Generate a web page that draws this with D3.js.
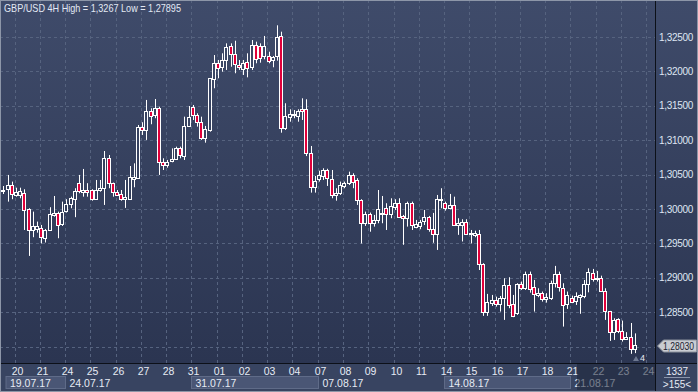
<!DOCTYPE html>
<html>
<head>
<meta charset="utf-8">
<script src="https://cdn.jsdelivr.net/npm/d3@7"></script>
<style>
  body { margin: 0; background: #2f3a55; }
  svg { display: block; font-family: "Liberation Sans", Arial, sans-serif; }
</style>
</head>
<body>
<div id="wrapper"></div>
<script>
// GBP/USD 4H bars, 19.07.17 12:00 -> 23.08.17 12:00
const opens = [1.30262,1.30287,1.30349,1.30214,1.30204,1.30238,1.29997,1.29695,1.29714,1.29720,
  1.29584,1.29695,1.29914,1.29948,1.29779,1.29972,1.30069,1.30156,1.30375,1.30252,
  1.30276,1.30276,1.30142,1.30267,1.30302,1.30737,1.30375,1.30244,1.30219,1.30142,
  1.30156,1.30447,1.30457,1.31197,1.31149,1.31425,1.31367,1.31473,1.30679,1.30640,
  1.30698,1.30727,1.30881,1.30775,1.31207,1.31479,1.31367,1.31261,1.31028,1.31149,
  1.31900,1.32127,1.32060,1.32166,1.32369,1.32253,1.32089,1.32045,1.32141,1.32060,
  1.32384,1.32369,1.32224,1.32224,1.32156,1.32214,1.32515,1.31173,1.31342,1.31367,
  1.31352,1.31449,1.31449,1.30819,1.30325,1.30432,1.30480,1.30567,1.30432,1.30204,
  1.30229,1.30335,1.30375,1.30495,1.30422,1.30131,1.29802,1.29928,1.29802,1.29841,
  1.29948,1.30016,1.29928,1.30034,1.30092,1.29899,1.29866,1.30092,1.29744,1.29754,
  1.29817,1.29881,1.29706,1.29638,1.30121,1.30084,1.30011,1.30059,1.29768,1.29768,
  1.29817,1.29638,1.29624,1.29638,1.29202,1.28509,1.28639,1.28678,1.28620,1.28703,
  1.28896,1.28620,1.28494,1.28911,1.28848,1.29056,1.28872,1.28751,1.28776,1.28689,
  1.28703,1.28921,1.29051,1.28857,1.28616,1.28712,1.28668,1.28726,1.28726,1.28906,
  1.29066,1.28983,1.29002,1.28810,1.28519,1.28210,1.28403,1.28229,1.28122,1.28146,
  1.27977];
const highs = [1.30334,1.30495,1.30398,1.30310,1.30310,1.30287,1.30011,1.29962,1.29817,1.29768,
  1.29710,1.30026,1.30189,1.29962,1.30107,1.30142,1.30179,1.30302,1.30495,1.30582,
  1.30375,1.30287,1.30422,1.30422,1.30843,1.30785,1.30384,1.30276,1.30276,1.30422,
  1.30625,1.30664,1.31221,1.31261,1.31585,1.31464,1.31599,1.31487,1.30737,1.30713,
  1.30881,1.30906,1.30906,1.31342,1.31497,1.31512,1.31391,1.31342,1.31207,1.31904,
  1.32238,1.32166,1.32263,1.32408,1.32408,1.32446,1.32166,1.32166,1.32263,1.32456,
  1.32432,1.32408,1.32515,1.32286,1.32224,1.32670,1.32577,1.31537,1.31449,1.31439,
  1.31449,1.31609,1.31595,1.30916,1.30480,1.30557,1.30592,1.30585,1.30567,1.30302,
  1.30398,1.30398,1.30543,1.30519,1.30447,1.30142,1.29962,1.29948,1.29914,1.30276,
  1.30189,1.30084,1.30156,1.30142,1.30156,1.29914,1.30107,1.30107,1.29841,1.29841,
  1.29986,1.29899,1.29943,1.30204,1.30302,1.30107,1.30219,1.30179,1.29866,1.29851,
  1.29851,1.29695,1.29685,1.29695,1.29212,1.28766,1.28751,1.28726,1.28736,1.28993,
  1.29008,1.28751,1.28921,1.28945,1.29090,1.29090,1.28969,1.28848,1.28800,1.28776,
  1.28959,1.29173,1.29090,1.28921,1.28800,1.28741,1.28789,1.28761,1.28969,1.29138,
  1.29129,1.29100,1.29031,1.28848,1.28519,1.28412,1.28412,1.28378,1.28210,1.28343,
  1.28192];
const lows = [1.30218,1.30107,1.30142,1.30179,1.30156,1.29695,1.29318,1.29590,1.29656,1.29499,
  1.29513,1.29685,1.29889,1.29575,1.29754,1.29948,1.30011,1.29881,1.30229,1.30179,
  1.30179,1.30121,1.30131,1.30252,1.30059,1.30302,1.30179,1.30189,1.30121,1.30016,
  1.30142,1.30316,1.30447,1.31076,1.31004,1.31232,1.31319,1.30495,1.30567,1.30601,
  1.30679,1.30713,1.30737,1.30713,1.31192,1.31294,1.31197,1.31004,1.30964,1.31124,
  1.31755,1.31900,1.31996,1.32021,1.32068,1.31973,1.32021,1.31948,1.31914,1.32021,
  1.32118,1.32127,1.32176,1.32118,1.32060,1.32156,1.31109,1.31149,1.31269,1.31319,
  1.31269,1.31294,1.30769,1.30238,1.30238,1.30398,1.30422,1.30335,1.30156,1.30121,
  1.30204,1.30302,1.30349,1.30302,1.30059,1.29499,1.29754,1.29670,1.29744,1.29793,
  1.29793,1.29695,1.29866,1.29986,1.29881,1.29480,1.29744,1.29695,1.29720,1.29706,
  1.29768,1.29670,1.29509,1.29405,1.30011,1.29976,1.29997,1.29754,1.29624,1.29528,
  1.29624,1.29499,1.29590,1.29113,1.28447,1.28447,1.28591,1.28581,1.28509,1.28388,
  1.28558,1.28428,1.28461,1.28824,1.28824,1.28784,1.28509,1.28718,1.28654,1.28639,
  1.28678,1.28860,1.28800,1.28291,1.28548,1.28632,1.28606,1.28477,1.28703,1.28789,
  1.28945,1.28945,1.28800,1.28388,1.28083,1.28097,1.28196,1.28073,1.28097,1.27895,
  1.27905];
const closes = [1.30276,1.30349,1.30214,1.30252,1.30255,1.29986,1.29695,1.29754,1.29754,1.29584,
  1.29695,1.29928,1.29948,1.29779,1.29954,1.30073,1.30156,1.30267,1.30252,1.30276,
  1.30252,1.30142,1.30276,1.30302,1.30737,1.30375,1.30238,1.30204,1.30142,1.30171,
  1.30470,1.30470,1.31197,1.31149,1.31425,1.31357,1.31473,1.30688,1.30640,1.30688,
  1.30727,1.30881,1.30775,1.31207,1.31342,1.31367,1.31269,1.31028,1.31159,1.31900,
  1.32127,1.32060,1.32166,1.32350,1.32253,1.32108,1.32060,1.32127,1.32060,1.32384,
  1.32176,1.32191,1.32369,1.32156,1.32205,1.32496,1.31173,1.31352,1.31381,1.31374,
  1.31429,1.31415,1.30810,1.30325,1.30412,1.30495,1.30567,1.30447,1.30204,1.30229,
  1.30349,1.30375,1.30495,1.30398,1.30131,1.29802,1.29928,1.29793,1.29841,1.29997,
  1.29939,1.29928,1.30044,1.30092,1.29889,1.29866,1.30084,1.29768,1.29783,1.29817,
  1.29881,1.29706,1.29638,1.30142,1.30142,1.30011,1.30059,1.29768,1.29793,1.29817,
  1.29638,1.29656,1.29648,1.29202,1.28509,1.28654,1.28678,1.28620,1.28703,1.28896,
  1.28606,1.28447,1.28911,1.28848,1.29056,1.28834,1.28776,1.28776,1.28689,1.28718,
  1.28921,1.29051,1.28863,1.28616,1.28751,1.28654,1.28741,1.28751,1.28906,1.29080,
  1.28983,1.29002,1.28810,1.28519,1.28210,1.28388,1.28229,1.28112,1.28146,1.27977,
  1.28030];

const dayLabels = ["20","21","24","25","26","27","28","31","01","02","03","04","07",
  "08","09","10","11","14","15","16","17","18","21","22","23","24"];
const weekLabels = ["19.07.17","24.07.17","31.07.17","07.08.17","14.08.17","21.08.17"];
const weekFirstDay = [-1, 2, 7, 12, 17, 22];   // position in dayLabels where each week starts
const priceTicks = [1.325, 1.32, 1.315, 1.31, 1.305, 1.30, 1.295, 1.29, 1.285, 1.28];
const lastPrice = 1.2803;
const titleText = "GBP/USD 4H High = 1,3267 Low = 1,27895";

const W = 698, H = 392;
const plotRight = 655, plotBottom = 363;
const barsPerDay = 6, firstDayBar = 3;

const svg = d3.select("#wrapper").append("svg")
  .attr("width", W).attr("height", H);

const defs = svg.append("defs");
const grad = defs.append("linearGradient")
  .attr("id", "bgGrad").attr("gradientUnits", "userSpaceOnUse")
  .attr("x1", 0).attr("y1", 0).attr("x2", 0).attr("y2", plotBottom);
grad.append("stop").attr("offset", 0).attr("stop-color", "#3f4b6a");
grad.append("stop").attr("offset", 1).attr("stop-color", "#2b3551");

// scales
const x = d3.scaleLinear().domain([0, 150]).range([3.3, 3.3 + 4.21 * 150]);
const y = d3.scaleLinear().domain([1.325, 1.285]).range([37, 37 + 0.04 * 6880]);
const fmt = p => d3.format(".5f")(p).replace(".", ",");

// backgrounds
svg.append("rect").attr("x", 0).attr("y", 0).attr("width", W).attr("height", plotBottom)
  .attr("fill", "url(#bgGrad)");
svg.append("rect").attr("x", 0).attr("y", plotBottom).attr("width", W).attr("height", H - plotBottom)
  .attr("fill", "#384461");

// grid
const dayX = j => Math.floor(x(firstDayBar + j * barsPerDay) - 0.8) + 0.5;
const grid = svg.append("g").attr("stroke", "#56637f").attr("stroke-dasharray", "3,3");
grid.selectAll("line.h").data(priceTicks).enter().append("line")
  .attr("class", "h")
  .attr("x1", 0).attr("x2", plotRight)
  .attr("y1", d => Math.round(y(d)) + 0.5).attr("y2", d => Math.round(y(d)) + 0.5);
grid.selectAll("line.v").data(dayLabels).enter().append("line")
  .attr("class", "v")
  .attr("x1", (d, j) => dayX(j)).attr("x2", (d, j) => dayX(j))
  .attr("y1", 0).attr("y2", plotBottom);

// candles
const idx = d3.range(opens.length);
const candles = svg.append("g").selectAll("g").data(idx).enter().append("g");
candles.append("line")
  .attr("x1", i => Math.round(x(i)) + 0.5).attr("x2", i => Math.round(x(i)) + 0.5)
  .attr("y1", i => y(highs[i])).attr("y2", i => y(lows[i]))
  .attr("stroke", "#ffffff").attr("stroke-width", 1);
candles.append("rect")
  .attr("x", i => Math.round(x(i)) - 1.5)
  .attr("width", 3)
  .attr("y", i => Math.round(Math.min(y(opens[i]), y(closes[i]))) + 0.5)
  .attr("height", i => Math.max(1, Math.round(Math.abs(y(opens[i]) - y(closes[i])))))
  .attr("fill", i => closes[i] < opens[i] ? "#e0003a" : "url(#bgGrad)")
  .attr("stroke", "#ffffff").attr("stroke-width", 1);

// separators
svg.append("line").attr("x1", plotRight + 0.5).attr("x2", plotRight + 0.5)
  .attr("y1", 0).attr("y2", H).attr("stroke", "#0c1018");
svg.append("line").attr("x1", 0).attr("x2", W)
  .attr("y1", plotBottom + 0.5).attr("y2", plotBottom + 0.5).attr("stroke", "#0c1018");

// price axis
svg.append("g").selectAll("text").data(priceTicks.slice(0, 9)).enter().append("text")
  .attr("x", 659).attr("y", d => y(d) + 3.5)
  .attr("fill", "#dfe6f3").attr("font-size", 10).attr("letter-spacing", -0.3)
  .text(fmt);

// current price tag
const py = Math.round(y(lastPrice)) + 1;
svg.append("path")
  .attr("d", `M657.5,${py} L663.5,${py - 6} L696.5,${py - 6} L696.5,${py + 6} L663.5,${py + 6} Z`)
  .attr("fill", "#c9ccd2").attr("stroke", "#8b919c");
svg.append("text").attr("x", 663).attr("y", py + 3.5)
  .attr("fill", "#1c2230").attr("font-size", 10)
  .attr("textLength", 31).attr("lengthAdjust", "spacingAndGlyphs")
  .text(fmt(lastPrice));

// week strip
const weekData = weekLabels.map((label, w) => ({
  label: label,
  shaded: w % 2 === 0,
  x0: weekFirstDay[w] < 0 ? 6 : dayX(weekFirstDay[w]),
  x1: w + 1 < weekLabels.length ? dayX(weekFirstDay[w + 1]) : plotRight
}));
const weeks = svg.append("g");
weeks.selectAll("rect").data(weekData.filter(d => d.shaded)).enter().append("rect")
  .attr("x", d => d.x0).attr("y", 376.5)
  .attr("width", d => d.x1 - d.x0).attr("height", 12)
  .attr("fill", "#4a5675").attr("stroke", "#5f6b88");
weeks.selectAll("text").data(weekData).enter().append("text")
  .attr("x", d => d.x0 + 4).attr("y", 386.5)
  .attr("fill", "#e6ebf4").attr("font-size", 10.5)
  .text(d => d.label);

// day labels
svg.append("g").selectAll("text").data(dayLabels).enter().append("text")
  .attr("x", (d, j) => dayX(j) + 2).attr("y", 375)
  .attr("text-anchor", "middle")
  .attr("fill", "#e6ebf4").attr("font-size", 10.5)
  .text(d => d);

// shaded region over the last days on the time axis
svg.append("rect").attr("x", 577).attr("y", plotBottom + 1)
  .attr("width", plotRight - 577).attr("height", 26)
  .attr("fill", "#1b2439").attr("opacity", 0.55);

// bottom right cell
svg.append("text").attr("x", 677).attr("y", 374.5).attr("text-anchor", "middle")
  .attr("fill", "#e6ebf4").attr("font-size", 10).text("1337");
svg.append("line").attr("x1", 664).attr("x2", 690).attr("y1", 377.5).attr("y2", 377.5)
  .attr("stroke", "#8a94aa");
svg.append("text").attr("x", 677).attr("y", 388).attr("text-anchor", "middle")
  .attr("fill", "#e6ebf4").attr("font-size", 10).text(">155<");

// bar counter near last candle
svg.append("path").attr("d", "M633,361 L636,356 L639,361 Z").attr("fill", "#6d7890");
svg.append("text").attr("x", 640).attr("y", 361).attr("fill", "#e6ebf4")
  .attr("font-size", 9).text("4");

// title
svg.append("text").attr("x", 4).attr("y", 12)
  .attr("fill", "#e3e9f4").attr("font-size", 11)
  .attr("textLength", 177).attr("lengthAdjust", "spacingAndGlyphs")
  .text(titleText);

// window border
svg.append("rect").attr("x", 0.5).attr("y", 0.5).attr("width", W - 1).attr("height", H - 1)
  .attr("fill", "none").attr("stroke", "#8d96a8");
</script>
</body>
</html>
